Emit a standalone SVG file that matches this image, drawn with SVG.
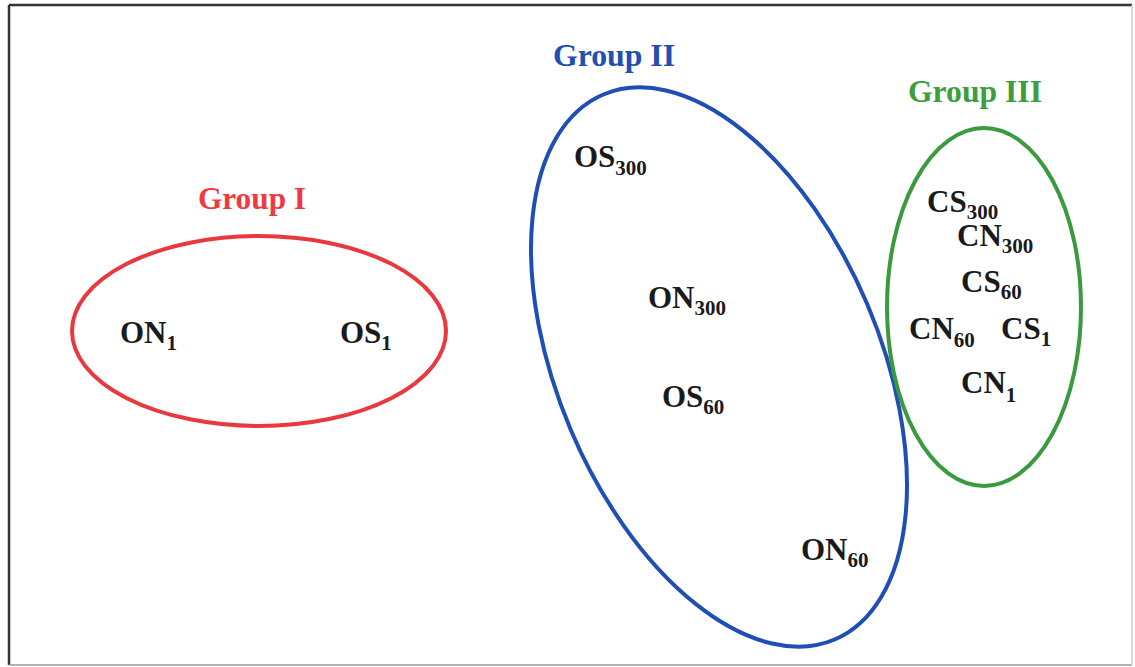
<svg xmlns="http://www.w3.org/2000/svg" width="1135" height="667" viewBox="0 0 1135 667">
<style>
.lbl{font-family:"Liberation Serif","Times New Roman",serif;font-weight:bold;font-size:31px;fill:#1a1a1a}
.sub{font-size:21px}
.grp{font-family:"Liberation Serif","Times New Roman",serif;font-weight:bold;font-size:32px}
.ell{fill:none;stroke-width:4}
</style>
<rect width="1135" height="667" fill="#fff"/>
<g id="frame">
<line x1="9" y1="5" x2="1132" y2="5" stroke="#333" stroke-width="2.5"/>
<line x1="9" y1="5" x2="9" y2="665" stroke="#333" stroke-width="2.5"/>
<line x1="9" y1="665" x2="1132" y2="665" stroke="#999" stroke-width="1.5"/>
<line x1="1132" y1="5" x2="1132" y2="665" stroke="#ccc" stroke-width="1.5"/>
</g>
<g id="group1">
<ellipse class="ell" cx="259" cy="331" rx="187" ry="95" stroke="#e8393f"/>
<text class="grp" x="198" y="209" fill="#f03a3f" textLength="108" lengthAdjust="spacingAndGlyphs">Group I</text>
</g>
<g id="group2">
<ellipse class="ell" cx="719" cy="367" rx="296" ry="161" transform="rotate(67 719 367)" stroke="#1f4fb5"/>
<text class="grp" x="553" y="66" fill="#2150b0" textLength="122" lengthAdjust="spacingAndGlyphs">Group II</text>
</g>
<g id="group3">
<ellipse class="ell" cx="984" cy="307" rx="97" ry="179" stroke="#3a9a3f"/>
<text class="grp" x="908" y="102" fill="#3c9e3c" textLength="134" lengthAdjust="spacingAndGlyphs">Group III</text>
</g>
<g id="ON1"><text class="lbl" x="120" y="343">ON<tspan class="sub" dy="7">1</tspan></text></g>
<g id="OS1"><text class="lbl" x="340" y="343">OS<tspan class="sub" dy="7">1</tspan></text></g>
<g id="OS300"><text class="lbl" x="574" y="167">OS<tspan class="sub" dy="8">300</tspan></text></g>
<g id="ON300"><text class="lbl" x="648" y="308">ON<tspan class="sub" dy="7">300</tspan></text></g>
<g id="OS60"><text class="lbl" x="662" y="407">OS<tspan class="sub" dy="7">60</tspan></text></g>
<g id="ON60"><text class="lbl" x="801" y="560">ON<tspan class="sub" dy="7">60</tspan></text></g>
<g id="CS300"><text class="lbl" x="927" y="212">CS<tspan class="sub" dy="7">300</tspan></text></g>
<g id="CN300"><text class="lbl" x="957" y="246">CN<tspan class="sub" dy="7">300</tspan></text></g>
<g id="CS60"><text class="lbl" x="961" y="292">CS<tspan class="sub" dy="7">60</tspan></text></g>
<g id="CN60"><text class="lbl" x="909" y="339">CN<tspan class="sub" dy="8">60</tspan></text></g>
<g id="CS1"><text class="lbl" x="1001" y="339">CS<tspan class="sub" dy="7">1</tspan></text></g>
<g id="CN1"><text class="lbl" x="961" y="393">CN<tspan class="sub" dy="9">1</tspan></text></g>
</svg>
